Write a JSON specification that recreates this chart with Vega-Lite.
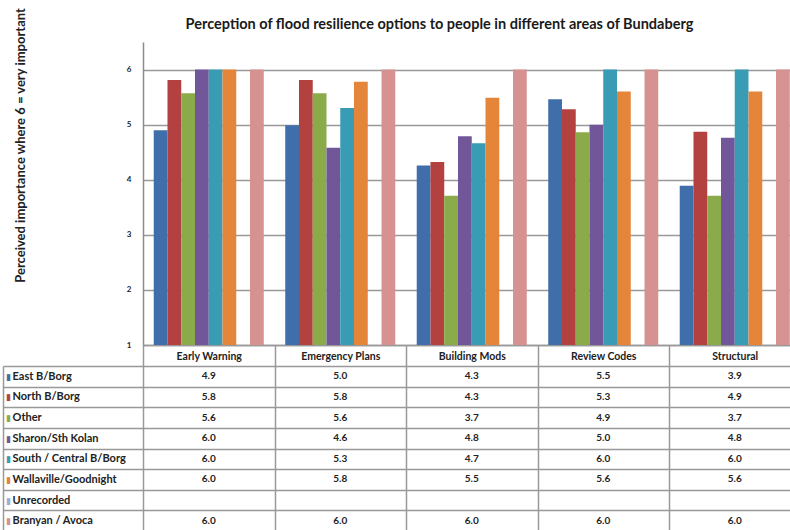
{
  "$schema": "https://vega.github.io/schema/vega-lite/v6.json",
  "width": 647,
  "height": 488,
  "autosize": {"type": "none"},
  "padding": {"left": 143, "top": 42, "right": 0, "bottom": 0},
  "background": "white",
  "config": {"view": {"stroke": null}, "font": "Lato"},
  "title": {
    "text": "Perception of flood resilience options to people in different areas of Bundaberg",
    "frame": "group", "anchor": "middle", "dx": -27, "dy": 22, "offset": -10, "baseline": "middle",
    "fontSize": 14.5, "fontWeight": "bold", "font": "Lato", "color": "#1a1a1a"
  },
  "data": {"values": [
    {"cat": "Early Warning", "series": "East B/Borg", "value": 4.90},
    {"cat": "Early Warning", "series": "North B/Borg", "value": 5.81},
    {"cat": "Early Warning", "series": "Other", "value": 5.57},
    {"cat": "Early Warning", "series": "Sharon/Sth Kolan", "value": 6.0},
    {"cat": "Early Warning", "series": "South / Central B/Borg", "value": 6.0},
    {"cat": "Early Warning", "series": "Wallaville/Goodnight", "value": 6.0},
    {"cat": "Early Warning", "series": "Unrecorded", "value": null},
    {"cat": "Early Warning", "series": "Branyan / Avoca", "value": 6.0},
    {"cat": "Emergency Plans", "series": "East B/Borg", "value": 4.99},
    {"cat": "Emergency Plans", "series": "North B/Borg", "value": 5.81},
    {"cat": "Emergency Plans", "series": "Other", "value": 5.57},
    {"cat": "Emergency Plans", "series": "Sharon/Sth Kolan", "value": 4.58},
    {"cat": "Emergency Plans", "series": "South / Central B/Borg", "value": 5.30},
    {"cat": "Emergency Plans", "series": "Wallaville/Goodnight", "value": 5.78},
    {"cat": "Emergency Plans", "series": "Unrecorded", "value": null},
    {"cat": "Emergency Plans", "series": "Branyan / Avoca", "value": 6.0},
    {"cat": "Building Mods", "series": "East B/Borg", "value": 4.26},
    {"cat": "Building Mods", "series": "North B/Borg", "value": 4.32},
    {"cat": "Building Mods", "series": "Other", "value": 3.71},
    {"cat": "Building Mods", "series": "Sharon/Sth Kolan", "value": 4.79},
    {"cat": "Building Mods", "series": "South / Central B/Borg", "value": 4.66},
    {"cat": "Building Mods", "series": "Wallaville/Goodnight", "value": 5.49},
    {"cat": "Building Mods", "series": "Unrecorded", "value": null},
    {"cat": "Building Mods", "series": "Branyan / Avoca", "value": 6.0},
    {"cat": "Review Codes", "series": "East B/Borg", "value": 5.46},
    {"cat": "Review Codes", "series": "North B/Borg", "value": 5.28},
    {"cat": "Review Codes", "series": "Other", "value": 4.86},
    {"cat": "Review Codes", "series": "Sharon/Sth Kolan", "value": 5.0},
    {"cat": "Review Codes", "series": "South / Central B/Borg", "value": 6.0},
    {"cat": "Review Codes", "series": "Wallaville/Goodnight", "value": 5.60},
    {"cat": "Review Codes", "series": "Unrecorded", "value": null},
    {"cat": "Review Codes", "series": "Branyan / Avoca", "value": 6.0},
    {"cat": "Structural", "series": "East B/Borg", "value": 3.89},
    {"cat": "Structural", "series": "North B/Borg", "value": 4.87},
    {"cat": "Structural", "series": "Other", "value": 3.71},
    {"cat": "Structural", "series": "Sharon/Sth Kolan", "value": 4.76},
    {"cat": "Structural", "series": "South / Central B/Borg", "value": 6.0},
    {"cat": "Structural", "series": "Wallaville/Goodnight", "value": 5.60},
    {"cat": "Structural", "series": "Unrecorded", "value": null},
    {"cat": "Structural", "series": "Branyan / Avoca", "value": 6.0}
  ]},
  "encoding": {
    "x": {
      "field": "cat", "type": "nominal",
      "sort": ["Early Warning", "Emergency Plans", "Building Mods", "Review Codes", "Structural"],
      "scale": {"domain": ["Early Warning", "Emergency Plans", "Building Mods", "Review Codes", "Structural"], "range": [0, 657.5], "paddingInner": 0, "paddingOuter": 0},
      "axis": {
        "orient": "bottom", "offset": -185, "title": null, "labelAngle": 0,
        "domainColor": "#999999", "domainWidth": 1.5,
        "tickBand": "extent", "tickSize": 187, "tickColor": "#999999", "tickWidth": 1.5,
        "labelPadding": -176, "labelBaseline": "middle", "labelFontSize": 10.5, "labelFontWeight": "bold", "labelColor": "#222222",
        "grid": false
      }
    }
  },
  "layer": [
    {
      "mark": {"type": "bar"},
      "encoding": {
        "xOffset": {"field": "series", "type": "nominal",
          "scale": {"domain": ["East B/Borg", "North B/Borg", "Other", "Sharon/Sth Kolan", "South / Central B/Borg", "Wallaville/Goodnight", "Unrecorded", "Branyan / Avoca"], "paddingInner": 0, "paddingOuter": 0.78}},
        "y": {"field": "value", "type": "quantitative",
          "scale": {"domain": [1, 6.5], "range": [303, 0], "zero": false, "nice": false},
          "axis": {
            "orient": "left", "values": [1, 2, 3, 4, 5, 6],
            "title": "Perceived importance where 6 = very important",
            "titleX": -123, "titleY": 103, "titleAngle": -90, "titleAlign": "center", "titleBaseline": "middle",
            "titleFontSize": 13, "titleFontWeight": "bold", "titleColor": "#222222",
            "ticks": false, "labelPadding": 12, "labelFontSize": 8, "labelFontWeight": "bold", "labelColor": "#222222", "labelBaseline": "middle",
            "domainColor": "#8c8c8c", "domainWidth": 1.5,
            "grid": true, "gridColor": "#999999", "gridWidth": 1.5
          }},
        "y2": {"datum": 1},
        "color": {"field": "series", "type": "nominal",
          "scale": {"domain": ["East B/Borg", "North B/Borg", "Other", "Sharon/Sth Kolan", "South / Central B/Borg", "Wallaville/Goodnight", "Unrecorded", "Branyan / Avoca"],
                    "range": ["#3F6EAA", "#B2413F", "#8BAB4A", "#71579A", "#3A9BB5", "#E5853A", "#9AAEDA", "#D59291"]},
          "legend": null}
      }
    },
    {
      "transform": [{"filter": "datum.value != null"}],
      "mark": {"type": "text", "fontSize": 10, "fontWeight": "bold", "color": "#222222"},
      "encoding": {
        "y": {"field": "series", "type": "nominal",
          "scale": {"domain": ["East B/Borg", "North B/Borg", "Other", "Sharon/Sth Kolan", "South / Central B/Borg", "Wallaville/Goodnight", "Unrecorded", "Branyan / Avoca"], "range": [324, 489], "paddingInner": 0, "paddingOuter": 0},
          "axis": {
            "orient": "left", "offset": 140, "title": null,
            "domainColor": "#999999", "domainWidth": 1.5,
            "ticks": true, "tickSize": -140, "tickColor": "#999999", "tickWidth": 1.5, "tickBand": "extent",
            "grid": true, "gridColor": "#999999", "gridWidth": 1.5,
            "labelAlign": "left", "labelPadding": 131, "labelFontSize": 11, "labelFontWeight": "bold", "labelColor": "#222222", "labelBaseline": "middle"
          }},
        "text": {"field": "value", "type": "quantitative", "format": ".1f"}
      }
    },
    {
      "mark": {"type": "text", "text": "", "opacity": 0},
      "encoding": {
        "y": {"field": "series", "type": "nominal",
          "scale": {"domain": ["East B/Borg", "North B/Borg", "Other", "Sharon/Sth Kolan", "South / Central B/Borg", "Wallaville/Goodnight", "Unrecorded", "Branyan / Avoca"], "range": [324, 489], "paddingInner": 0, "paddingOuter": 0},
          "axis": {
            "orient": "left", "offset": 135, "title": null,
            "domain": false, "ticks": false, "tickSize": 0, "grid": false,
            "labelExpr": "'▮'", "labelAlign": "center", "labelPadding": 0, "labelFontSize": 9, "labelFont": "DejaVu Sans", "labelBaseline": "middle",
            "labelColor": {"condition": [
              {"test": "datum.value === 'East B/Borg'", "value": "#3F6EAA"},
              {"test": "datum.value === 'North B/Borg'", "value": "#B2413F"},
              {"test": "datum.value === 'Other'", "value": "#8BAB4A"},
              {"test": "datum.value === 'Sharon/Sth Kolan'", "value": "#71579A"},
              {"test": "datum.value === 'South / Central B/Borg'", "value": "#3A9BB5"},
              {"test": "datum.value === 'Wallaville/Goodnight'", "value": "#E5853A"},
              {"test": "datum.value === 'Unrecorded'", "value": "#9AAEDA"}
            ], "value": "#D59291"}
          }}
      }
    }
  ],
  "resolve": {"scale": {"y": "independent"}, "axis": {"y": "independent"}}
}
